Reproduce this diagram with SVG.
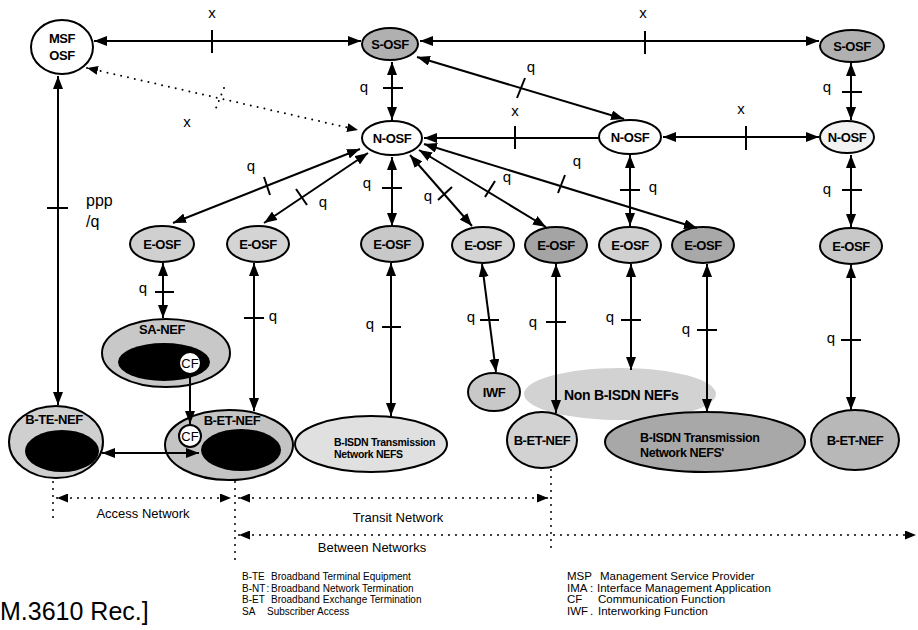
<svg xmlns="http://www.w3.org/2000/svg" width="918" height="630" viewBox="0 0 918 630">
<defs>
<marker id="ah" viewBox="0 0 13 10" refX="13" refY="5" markerWidth="13" markerHeight="10" markerUnits="userSpaceOnUse" orient="auto-start-reverse"><path d="M0,0 L13,5 L0,10 z" fill="#000"/></marker>
<marker id="sh" viewBox="0 0 11 9" refX="11" refY="4.5" markerWidth="11" markerHeight="9" markerUnits="userSpaceOnUse" orient="auto-start-reverse"><path d="M0,0 L11,4.5 L0,9 z" fill="#000"/></marker>
</defs>
<style>
.ln{fill:none;stroke:#000;stroke-width:2}
.b{marker-start:url(#ah);marker-end:url(#ah)}
.e{marker-end:url(#ah)}
.tk{fill:none;stroke:#000;stroke-width:2}
.dt{fill:none;stroke:#000;stroke-width:2;stroke-dasharray:0 7;stroke-linecap:round}
.ds{marker-start:url(#sh);marker-end:url(#sh)}
.nd{stroke:#000;stroke-width:2}
.nt{font-family:"Liberation Sans",Arial,sans-serif;font-weight:bold;font-size:13px;text-anchor:middle;letter-spacing:-0.4px;fill:#000}
.lb{font-family:"Liberation Sans",Arial,sans-serif;font-size:15px;text-anchor:middle;fill:#000}
.lg{font-family:"Liberation Sans",Arial,sans-serif;font-size:10px;fill:#000}
.lr{font-family:"Liberation Sans",Arial,sans-serif;font-size:11.5px;fill:#000}
.cap{font-family:"Liberation Sans",Arial,sans-serif;font-size:13px;text-anchor:middle;fill:#000}
</style>
<rect width="918" height="630" fill="#fff"/>

<g id="non-bisdn">
<ellipse cx="620" cy="394" rx="96" ry="26" fill="#d2d2d2"/>
<text x="564" y="400" font-family="Liberation Sans, Arial, sans-serif" font-weight="bold" font-size="14" letter-spacing="-0.3">Non B-ISDN NEFs</text>
</g>

<g id="msf-osf"><ellipse class="nd" cx="62" cy="47" rx="31" ry="27" fill="#fff"/><text class="nt" x="62" y="43">MSF</text><text class="nt" x="62" y="60">OSF</text></g>
<g id="s-osf-1"><ellipse class="nd" cx="390" cy="44" rx="28" ry="16" fill="#b0b0b0" stroke-width="2.5"/><text class="nt" x="390" y="49">S-OSF</text></g>
<g id="s-osf-2"><ellipse class="nd" cx="852" cy="46" rx="32" ry="16" fill="#b0b0b0" stroke-width="2.5"/><text class="nt" x="852" y="51">S-OSF</text></g>
<g id="n-osf-1"><ellipse class="nd" cx="392" cy="138" rx="30" ry="17" fill="#fff"/><text class="nt" x="392" y="143">N-OSF</text></g>
<g id="n-osf-2"><ellipse class="nd" cx="630" cy="137" rx="31" ry="17" fill="#fff"/><text class="nt" x="630" y="142">N-OSF</text></g>
<g id="n-osf-3"><ellipse class="nd" cx="847" cy="137" rx="27" ry="16" fill="#f2f2f2"/><text class="nt" x="847" y="142">N-OSF</text></g>

<g id="e-osf-1"><ellipse class="nd" cx="162" cy="244" rx="32" ry="18" fill="#d0d0d0"/><text class="nt" x="162" y="249">E-OSF</text></g>
<g id="e-osf-2"><ellipse class="nd" cx="258" cy="244" rx="31" ry="18" fill="#d4d4d4"/><text class="nt" x="258" y="249">E-OSF</text></g>
<g id="e-osf-3"><ellipse class="nd" cx="392" cy="244" rx="31" ry="18" fill="#c8c8c8"/><text class="nt" x="392" y="249">E-OSF</text></g>
<g id="e-osf-4"><ellipse class="nd" cx="483" cy="245" rx="31" ry="18" fill="#d4d4d4"/><text class="nt" x="483" y="250">E-OSF</text></g>
<g id="e-osf-5"><ellipse class="nd" cx="556" cy="245" rx="31" ry="18" fill="#a4a4a4" stroke-width="2.5"/><text class="nt" x="556" y="250">E-OSF</text></g>
<g id="e-osf-6"><ellipse class="nd" cx="630" cy="245" rx="31" ry="18" fill="#d0d0d0"/><text class="nt" x="630" y="250">E-OSF</text></g>
<g id="e-osf-7"><ellipse class="nd" cx="703" cy="245" rx="31" ry="18" fill="#a8a8a8" stroke-width="2.5"/><text class="nt" x="703" y="250">E-OSF</text></g>
<g id="e-osf-8"><ellipse class="nd" cx="851" cy="246" rx="31" ry="18" fill="#c8c8c8"/><text class="nt" x="851" y="251">E-OSF</text></g>

<g id="sa-nef"><ellipse class="nd" cx="166" cy="353" rx="64" ry="34" fill="#c8c8c8"/><ellipse cx="164" cy="362" rx="46" ry="19" fill="#000"/><text class="nt" x="162" y="334" font-size="11">SA-NEF</text><circle cx="190" cy="363" r="11" fill="#fff" stroke="#000" stroke-width="2"/><text class="cap" x="190" y="368">CF</text></g>
<g id="b-te-nef"><ellipse class="nd" cx="56" cy="442" rx="47" ry="36" fill="#cfcfcf"/><ellipse cx="62" cy="451" rx="37" ry="21" fill="#000"/><text class="nt" x="54" y="424" font-size="12">B-TE-NEF</text></g>
<g id="b-et-nef-1"><ellipse class="nd" cx="229" cy="445" rx="64" ry="35" fill="#c4c4c4"/><ellipse cx="241" cy="450" rx="40" ry="21" fill="#000"/><text class="nt" x="232" y="425" font-size="12">B-ET-NEF</text><circle cx="190" cy="436" r="11" fill="#fff" stroke="#000" stroke-width="2"/><text class="cap" x="190" y="441">CF</text></g>
<g id="b-isdn-1"><ellipse class="nd" cx="371" cy="444" rx="76" ry="28" fill="#e0e0e0"/><text x="334" y="446" font-family="Liberation Sans, Arial, sans-serif" font-weight="bold" font-size="10.5" letter-spacing="-0.3">B-ISDN Transmission</text><text x="334" y="458" font-family="Liberation Sans, Arial, sans-serif" font-weight="bold" font-size="10.5" letter-spacing="-0.3">Network NEFS</text></g>
<g id="iwf"><ellipse class="nd" cx="494" cy="392" rx="26" ry="19" fill="#c8c8c8"/><text class="nt" x="494" y="397" font-size="12">IWF</text></g>
<g id="b-et-nef-2"><ellipse class="nd" cx="542" cy="440" rx="35" ry="28" fill="#d2d2d2"/><text class="nt" x="542" y="445" font-size="11">B-ET-NEF</text></g>
<g id="b-isdn-2"><ellipse class="nd" cx="705" cy="442" rx="100" ry="30" fill="#a8a8a8" stroke-width="2.5"/><text x="640" y="442" font-family="Liberation Sans, Arial, sans-serif" font-weight="bold" font-size="12.5" letter-spacing="-0.4">B-ISDN Transmission</text><text x="640" y="457" font-family="Liberation Sans, Arial, sans-serif" font-weight="bold" font-size="12.5" letter-spacing="-0.4">Network NEFS'</text></g>
<g id="b-et-nef-3"><ellipse class="nd" cx="855" cy="440" rx="44" ry="30" fill="#b8b8b8"/><text class="nt" x="855" y="445" font-size="11">B-ET-NEF</text></g>

<g id="connectors">
<path class="ln b" d="M94,41 H361"/><path class="tk" d="M212,30 V53"/>
<path class="ln b" d="M420,41 H819"/><path class="tk" d="M645,31 V54"/>
<path class="ln b" d="M392,62 V120"/><path class="tk" d="M383,88 H403"/>
<path class="ln b" d="M417,57 L624,119"/><path class="tk" d="M525,78 L517,98"/>
<path class="ln e" d="M599,138 H424"/><path class="tk" d="M515,126 V149"/>
<path class="ln b" d="M663,137 H819"/><path class="tk" d="M746,126 V150"/>
<path class="ln b" d="M851,63 V120"/><path class="tk" d="M842,92 H862"/>
<path class="ln b" d="M851,155 V227"/><path class="tk" d="M842,190 H862"/>
<path class="ln b" d="M630,155 V226"/><path class="tk" d="M620,190 H640"/>
<path class="ln b" d="M58,76 V405"/><path class="tk" d="M47,208 H68"/>
<path class="dt ds" d="M87,68 L358,130"/><path class="dt" d="M224,88 L216,108"/>
<path class="ln b" d="M360,149 L173,223"/><path class="tk" d="M264,177 L270,195"/>
<path class="ln b" d="M368,153 L264,223"/><path class="tk" d="M296,189 L307,205"/>
<path class="ln b" d="M392,157 V226"/><path class="tk" d="M382,188 H402"/>
<path class="ln b" d="M410,155 L472,226"/><path class="tk" d="M438,200 L452,187"/>
<path class="ln b" d="M419,150 L546,227"/><path class="tk" d="M485,197 L495,181"/>
<path class="ln b" d="M424,144 L697,228"/><path class="tk" d="M558,193 L565,175"/>
<path class="ln b" d="M163,263 V318"/><path class="tk" d="M155,292 H174"/>
<path class="ln b" d="M254,263 V411"/><path class="tk" d="M244,318 H264"/>
<path class="ln b" d="M391,263 V416"/><path class="tk" d="M382,327 H401"/>
<path class="ln b" d="M482,264 L496,372"/><path class="tk" d="M480,320 H499"/>
<path class="ln b" d="M556,264 V413"/><path class="tk" d="M546,322 H566"/>
<path class="ln b" d="M631,264 V370"/><path class="tk" d="M621,320 H641"/>
<path class="ln b" d="M707,264 V412"/><path class="tk" d="M697,330 H717"/>
<path class="ln b" d="M851,265 V410"/><path class="tk" d="M841,340 H861"/>
<path class="ln e" d="M190,375 V424"/>
<path class="ln b" d="M102,453 H199"/>
<path class="dt" d="M53,482 V522"/>
<path class="dt" d="M235,482 V560"/>
<path class="dt" d="M551,470 V552"/>
<path class="dt ds" d="M57,498 H231"/>
<path class="dt ds" d="M239,498 H548"/>
<path class="dt ds" d="M239,535 H916"/>
</g>

<g id="labels">
<text class="lb" x="212" y="18">x</text>
<text class="lb" x="643" y="18">x</text>
<text class="lb" x="187" y="127">x</text>
<text class="lb" x="515" y="116">x</text>
<text class="lb" x="741" y="114">x</text>
<text class="lb" x="364" y="92">q</text>
<text class="lb" x="531" y="72">q</text>
<text class="lb" x="827" y="92">q</text>
<text class="lb" x="827" y="194">q</text>
<text class="lb" x="653" y="192">q</text>
<text class="lb" x="251" y="171">q</text>
<text class="lb" x="323" y="207">q</text>
<text class="lb" x="367" y="188">q</text>
<text class="lb" x="428" y="201">q</text>
<text class="lb" x="507" y="182">q</text>
<text class="lb" x="577" y="166">q</text>
<text class="lb" x="143" y="293">q</text>
<text class="lb" x="273" y="321">q</text>
<text class="lb" x="370" y="329">q</text>
<text class="lb" x="471" y="322">q</text>
<text class="lb" x="533" y="327">q</text>
<text class="lb" x="610" y="322">q</text>
<text class="lb" x="686" y="334">q</text>
<text class="lb" x="831" y="343">q</text>
<text x="86" y="206" font-family="Liberation Sans, Arial, sans-serif" font-size="16">ppp</text>
<text x="86" y="227" font-family="Liberation Sans, Arial, sans-serif" font-size="16">/q</text>
</g>

<g id="captions">
<text class="cap" x="143" y="518">Access Network</text>
<text class="cap" x="398" y="522">Transit  Network</text>
<text class="cap" x="372" y="552">Between Networks</text>
<text x="0" y="620" font-family="Liberation Sans, Arial, sans-serif" font-size="25">M.3610 Rec.]</text>
<text class="lg" x="242" y="580">B-TE</text><text class="lg" x="271" y="580">Broadband Terminal Equipment</text>
<text class="lg" x="242" y="592">B-NT</text><text class="lg" x="266.5" y="592">:</text><text class="lg" x="271" y="592">Broadband Network Termination</text>
<text class="lg" x="242" y="603">B-ET</text><text class="lg" x="271" y="603">Broadband Exchange Termination</text>
<text class="lg" x="242" y="615">SA</text><text class="lg" x="267" y="615">Subscriber Access</text>
<text class="lr" x="567" y="580">MSP</text><text class="lr" x="600" y="580">Management Service Provider</text>
<text class="lr" x="567" y="592">IMA</text><text class="lr" x="590" y="592">:</text><text class="lr" x="597" y="592">Interface Management Application</text>
<text class="lr" x="567" y="603">CF</text><text class="lr" x="598" y="603">Communication Function</text>
<text class="lr" x="567" y="615">IWF</text><text class="lr" x="590" y="615">.</text><text class="lr" x="598" y="615">Interworking Function</text>
</g>
</svg>
